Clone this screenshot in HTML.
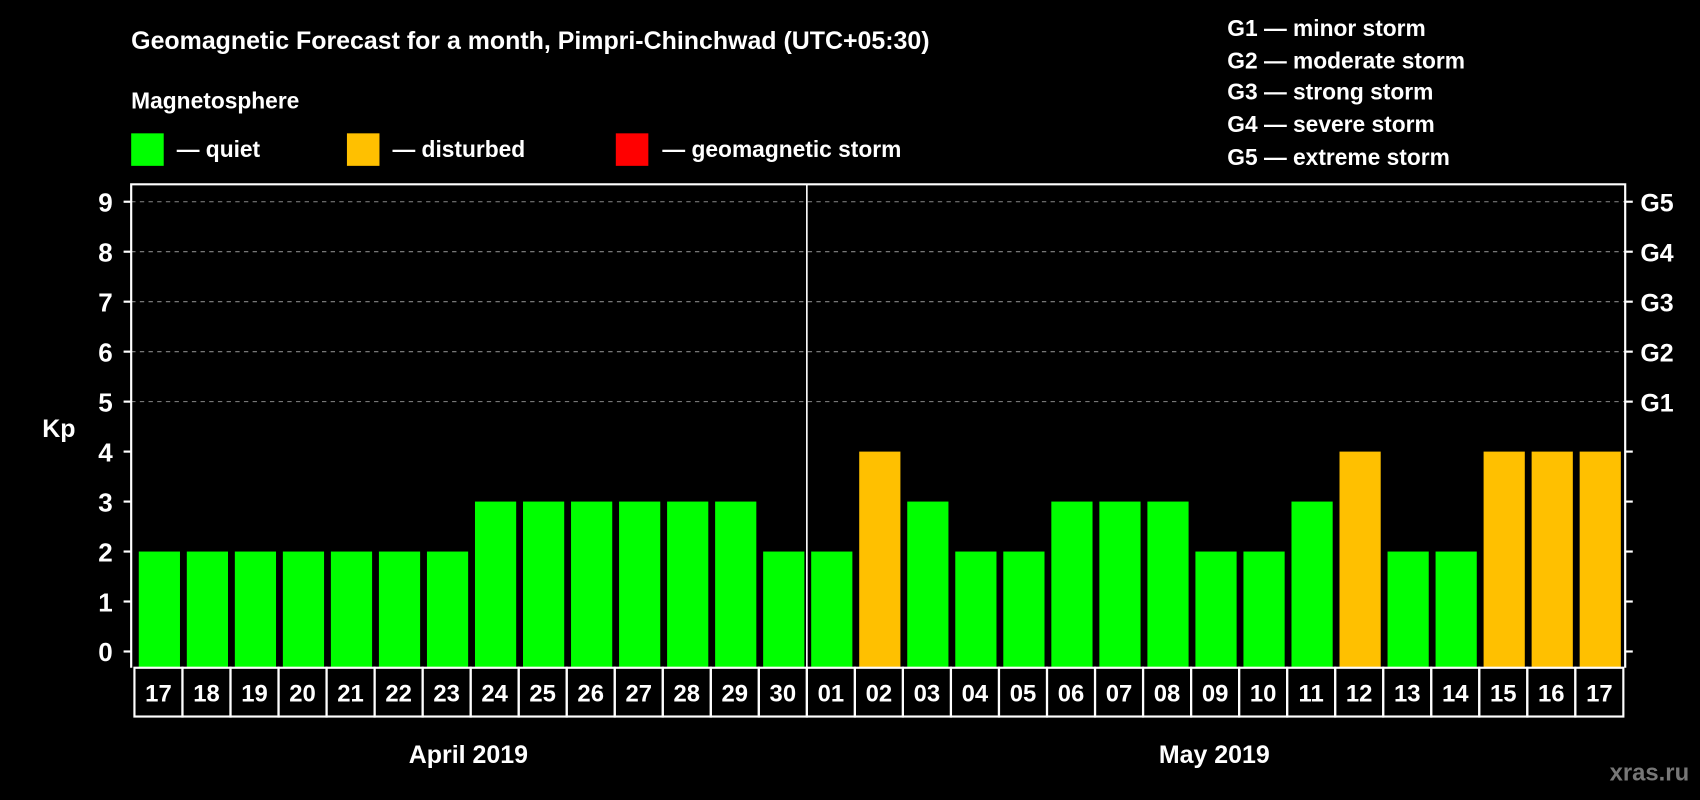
<!DOCTYPE html>
<html><head><meta charset="utf-8"><style>
html,body{margin:0;padding:0;background:#000;}
svg{display:block;}
text{font-family:"Liberation Sans",Arial,sans-serif;font-weight:bold;fill:#fff;}
</style></head><body>
<svg id="chart" width="1700" height="800" viewBox="0 0 1568 738" preserveAspectRatio="none">
<rect x="0" y="0" width="1568" height="738" fill="#000"/>
<text x="121" y="45" font-size="23">Geomagnetic Forecast for a month, Pimpri-Chinchwad (UTC+05:30)</text>
<text x="121" y="100" font-size="21">Magnetosphere</text>
<g><rect x="121" y="123" width="30" height="30" fill="#00ff00"/><text x="163" y="145" font-size="21">— quiet</text></g>
<g><rect x="320" y="123" width="30" height="30" fill="#ffc000"/><text x="362" y="145" font-size="21">— disturbed</text></g>
<g><rect x="568" y="123" width="30" height="30" fill="#ff0000"/><text x="611" y="145" font-size="21">— geomagnetic storm</text></g>
<g font-size="21">
<text x="1132" y="33" font-size="21">G1 — minor storm</text>
<text x="1132" y="63" font-size="21">G2 — moderate storm</text>
<text x="1132" y="92" font-size="21">G3 — strong storm</text>
<text x="1132" y="122" font-size="21">G4 — severe storm</text>
<text x="1132" y="152" font-size="21">G5 — extreme storm</text>
</g>
<text x="39" y="403" font-size="23">Kp</text>
<g id="grid"></g><g id="bars"></g><g id="axes"></g><g id="labels"></g>
<text x="432" y="704" font-size="23" text-anchor="middle">April 2019</text>
<text x="1120" y="704" font-size="23" text-anchor="middle">May 2019</text>
<text x="1558" y="720" font-size="22" text-anchor="end" style="fill:#777">xras.ru</text>
</svg>
<script>
const days = ["17","18","19","20","21","22","23","24","25","26","27","28","29","30","01","02","03","04","05","06","07","08","09","10","11","12","13","14","15","16","17"];
const kpValues = [2,2,2,2,2,2,2,3,3,3,3,3,3,2,2,4,3,2,2,3,3,3,2,2,3,4,2,2,4,4,4];
const yTicks = [0,1,2,3,4,5,6,7,8,9];
const gLabels = ["","","","","","G1","G2","G3","G4","G5"];
const NS="http://www.w3.org/2000/svg";
const L=121,R=1499,T=170,B=616,cx0=124,cw=44.3;
const y=v=>601-v*46.1;
const xCell=i=>cx0+i*cw;
function mk(tag,attrs,parent){const e=document.createElementNS(NS,tag);for(const k in attrs)e.setAttribute(k,attrs[k]);parent.appendChild(e);return e;}
const grid=document.getElementById('grid'),bars=document.getElementById('bars'),axes=document.getElementById('axes'),labels=document.getElementById('labels');
yTicks.forEach((v,i)=>{
  if(v>=5){const g=mk('line',{x1:L,x2:R,y1:y(v),y2:y(v),stroke:'#888','stroke-width':1,'stroke-dasharray':'4,4'},grid);
  
  }
  const t=mk('line',{x1:L-7,x2:L,y1:y(v),y2:y(v),stroke:'#fff','stroke-width':2},axes);
  
  
  const t2=mk('line',{x1:R,x2:R+7,y1:y(v),y2:y(v),stroke:'#fff','stroke-width':2},axes);
  
  
  const tx=mk('text',{x:104,y:y(v)+9,'font-size':24,'text-anchor':'end'},axes);tx.textContent=v;
  
  
  if(gLabels[i]){const gt=mk('text',{x:1513,y:y(v)+9,'font-size':23},axes);gt.textContent=gLabels[i];
  
  }
});
kpValues.forEach((v,i)=>{
  const col=v>=5?'#ff0000':(v>=4?'#ffc000':'#00ff00');
  const b=mk('rect',{x:xCell(i)+4,y:y(v),width:38,height:B-y(v),fill:col},bars);
  
  
  const c=mk('rect',{x:xCell(i),y:B,width:cw,height:45,fill:'none',stroke:'#fff','stroke-width':2},labels);
  
  
  const t=mk('text',{x:xCell(i)+cw/2,y:B+31,'font-size':22,'text-anchor':'middle'},labels);t.textContent=days[i];
  
  
});
const a=mk('path',{d:`M${L},${B} V${T} H${R} V${B}`,fill:'none',stroke:'#fff','stroke-width':2},axes);


const sep=mk('line',{x1:xCell(14),x2:xCell(14),y1:T,y2:B,stroke:'#fff','stroke-width':1.5},axes);


</script>
</body></html>
